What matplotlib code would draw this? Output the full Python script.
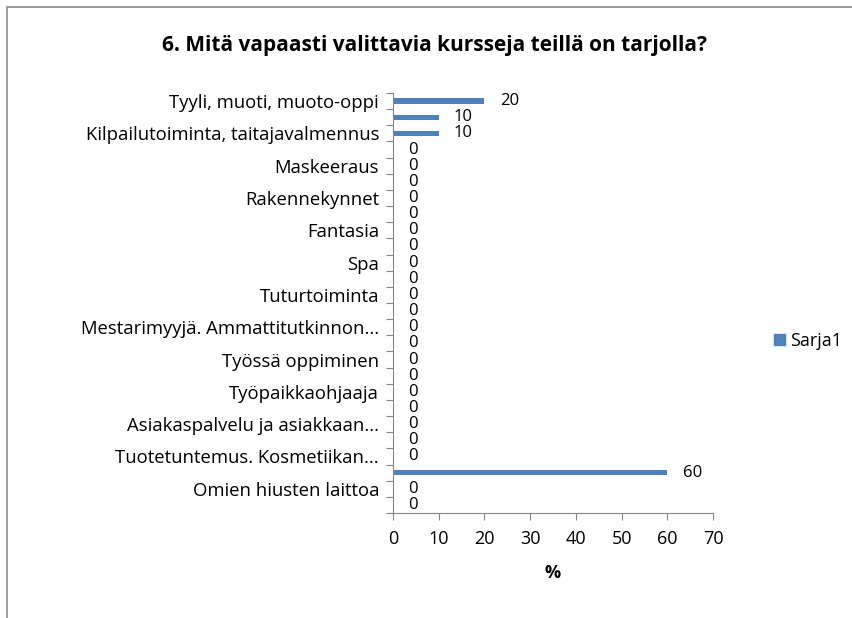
import matplotlib
matplotlib.use('Agg')
import matplotlib.pyplot as plt
from matplotlib.patches import Rectangle, Patch
import numpy as np

# Kurssit ylhäältä alas (vain joka toinen nimi näkyy alkuperäisessä kaaviossa)
categories = [
    "Tyyli, muoti, muoto-oppi", "",
    "Kilpailutoiminta, taitajavalmennus", "",
    "Maskeeraus", "",
    "Rakennekynnet", "",
    "Fantasia", "",
    "Spa", "",
    "Tuturtoiminta", "",
    "Mestarimyyjä. Ammattitutkinnon...", "",
    "Työssä oppiminen", "",
    "Työpaikkaohjaaja", "",
    "Asiakaspalvelu ja asiakkaan...", "",
    "Tuotetuntemus. Kosmetiikan...", "",
    "Omien hiusten laittoa", "",
]
values = [20, 10, 10, 0, 0, 0, 0, 0, 0, 0, 0, 0, 0, 0, 0, 0, 0, 0, 0, 0, 0, 0, 0, 60, 0, 0]
x_ticks = [0, 10, 20, 30, 40, 50, 60, 70]

font = 'Open Sans'
bar_color = '#4F81BD'
axis_color = '#868686'

W, H = 852, 618
fig = plt.figure(figsize=(W / 100, H / 100), dpi=100)

# Kaavioalueen reunus
fig.patches.append(Rectangle((7 / W, -0.1), 1.2, 1 - 7 / H + 0.1, transform=fig.transFigure,
                             fill=False, edgecolor='#8c8c8c', linewidth=1.2))

ax = fig.add_axes([393 / W, (H - 513) / H, 320 / W, 420 / H])

n = len(categories)
y = np.arange(n)
ax.barh(y, values, height=0.32, color=bar_color)

ax.set_xlim(0, 70)
ax.set_ylim(n - 0.5, -0.5)

# Arvot palkkien perään
for yi, v in zip(y, values):
    ax.annotate(str(v), xy=(v, yi), xytext=(11, 0), textcoords='offset points',
                va='center', ha='left', fontsize=12, family=font)

# Y-akseli: jakoviivat luokkien välissä, nimet keskellä
ax.set_yticks(np.arange(n + 1) - 0.5)
ax.set_yticklabels([])
ax.set_yticks(y[::2], minor=True)
ax.set_yticklabels(categories[::2], minor=True, fontsize=13.3, family=font)
ax.tick_params(axis='y', which='minor', length=0, pad=10)
ax.tick_params(axis='y', which='major', length=5, color=axis_color, direction='out')

ax.set_xticks(x_ticks)
ax.set_xticklabels([str(t) for t in x_ticks], fontsize=13, family=font)
ax.tick_params(axis='x', length=5, color=axis_color, direction='out', pad=7)

for s in ['top', 'right']:
    ax.spines[s].set_visible(False)
for s in ['left', 'bottom']:
    ax.spines[s].set_color(axis_color)

ax.set_xlabel('%', fontsize=13, weight='bold', family=font, labelpad=12)

fig.text(435 / W, 1 - 45 / H, '6. Mitä vapaasti valittavia kursseja teillä on tarjolla?',
         ha='center', va='center', fontsize=15, weight='bold', family=font)

fig.legend(handles=[Patch(color=bar_color, label='Sarja1')], loc='center left',
           bbox_to_anchor=(758 / W, 1 - 341 / H), frameon=False, handlelength=0.6,
           handleheight=0.6, handletextpad=0.3, prop={'family': font, 'size': 13})

fig.savefig('out.png', dpi=100)
